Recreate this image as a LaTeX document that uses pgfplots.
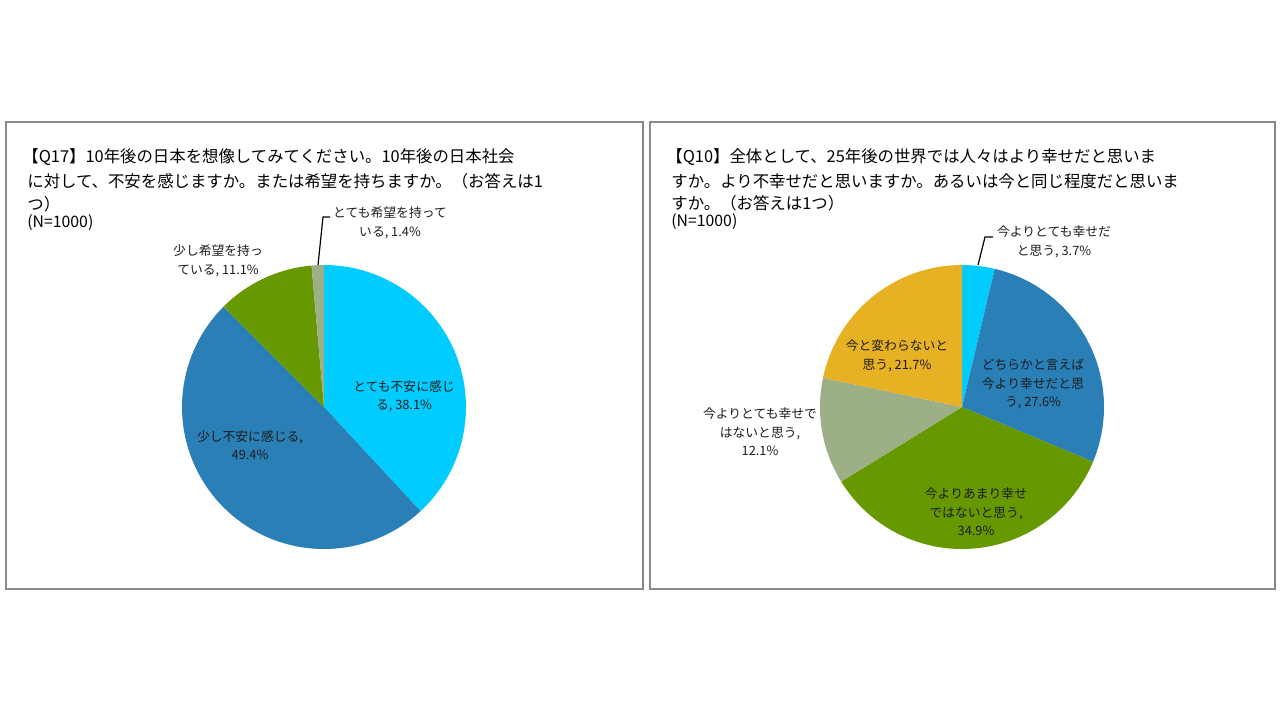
\documentclass[border=0pt]{standalone}
\usepackage{pgfplots}
\pgfplotsset{compat=1.18}
\usepackage{fontspec}
\setmainfont{Noto Sans CJK JP}
\definecolor{cA}{HTML}{00CCFF}
\definecolor{cB}{HTML}{2A7FB6}
\definecolor{cC}{HTML}{669900}
\definecolor{cD}{HTML}{9CAF86}
\definecolor{cE}{HTML}{E6B122}
\definecolor{boxc}{HTML}{8A8A8A}
\definecolor{txt}{HTML}{1C1C1C}
\newcommand\cum{0}
\newcommand\slice[4]{% cx, cy, pct, colour
  \pgfmathsetmacro\sa{90-3.6*(\cum+#3)}%
  \pgfmathsetmacro\sb{90-3.6*\cum}%
  \pgfmathsetmacro\newcum{\cum+#3}%
  \xdef\cum{\newcum}%
  \edef\doslice{\noexpand\addplot[fill=#4, draw=none, domain=\sa:\sb, samples=90] ({#1+142*cos(x)},{#2-142*sin(x)}) -- (axis cs:#1,#2) -- cycle;}%
  \doslice}
\newcommand\tfont{\fontsize{8.2pt}{10pt}\selectfont}
\newcommand\nfont{\fontsize{7.9pt}{10pt}\selectfont}
\newcommand\lfont{\fontsize{6.4pt}{9.2pt}\selectfont}
\begin{document}
\begin{tikzpicture}
\begin{axis}[scale only axis, width=640pt, height=360pt,
  xmin=0, xmax=1280, ymin=0, ymax=720, y dir=reverse,
  hide axis, clip=false]
\path (axis cs:0,0) rectangle (axis cs:1280,720);
% boxes
\draw[boxc, line width=0.8pt] (axis cs:6,122) rectangle (axis cs:643,589);
\draw[boxc, line width=0.8pt] (axis cs:650,122) rectangle (axis cs:1275,589);
% left pie
\gdef\cum{0}
\slice{324}{407}{38.1}{cA}
\slice{324}{407}{49.4}{cB}
\slice{324}{407}{11.1}{cC}
\slice{324}{407}{1.4}{cD}
% right pie
\gdef\cum{0}
\slice{962}{407}{3.7}{cA}
\slice{962}{407}{27.6}{cB}
\slice{962}{407}{34.9}{cC}
\slice{962}{407}{12.1}{cD}
\slice{962}{407}{21.7}{cE}
% titles
\node[anchor=west, inner sep=0, font=\tfont] at (axis cs:22,157) {【Q17】10年後の日本を想像してみてください。10年後の日本社会};
\node[anchor=west, inner sep=0, font=\tfont] at (axis cs:27,181) {に対して、不安を感じますか。または希望を持ちますか。（お答えは1};
\node[anchor=west, inner sep=0, font=\tfont] at (axis cs:27,204) {つ）};
\node[anchor=west, inner sep=0, font=\nfont] at (axis cs:27,223) {(N=1000)};
\node[anchor=west, inner sep=0, font=\tfont] at (axis cs:666,157) {【Q10】全体として、25年後の世界では人々はより幸せだと思いま};
\node[anchor=west, inner sep=0, font=\tfont] at (axis cs:671,181) {すか。より不幸せだと思いますか。あるいは今と同じ程度だと思いま};
\node[anchor=west, inner sep=0, font=\tfont] at (axis cs:671,203) {すか。（お答えは1つ）};
\node[anchor=west, inner sep=0, font=\nfont] at (axis cs:671,222) {(N=1000)};
% left labels
\draw[black, line width=0.6pt] (axis cs:318,265) -- (axis cs:323,217) -- (axis cs:330,217);
\node[align=center, inner sep=0, font=\lfont, text=txt] at (axis cs:390,223) {とても希望を持って\\いる, 1.4\%};
\node[align=center, inner sep=0, font=\lfont, text=txt] at (axis cs:218,261) {少し希望を持っ\\ている, 11.1\%};
\node[align=center, inner sep=0, font=\lfont, text=txt] at (axis cs:404,396) {とても不安に感じ\\る, 38.1\%};
\node[align=center, inner sep=0, font=\lfont, text=txt] at (axis cs:250,445) {少し不安に感じる,\\49.4\%};
% right labels
\draw[black, line width=0.6pt] (axis cs:978,265) -- (axis cs:985,237) -- (axis cs:993,237);
\node[align=center, inner sep=0, font=\lfont, text=txt] at (axis cs:1054,242) {今よりとても幸せだ\\と思う, 3.7\%};
\node[align=center, inner sep=0, font=\lfont, text=txt] at (axis cs:897,356) {今と変わらないと\\思う, 21.7\%};
\node[align=center, inner sep=0, font=\lfont, text=txt] at (axis cs:1033,384) {どちらかと言えば\\今より幸せだと思\\う, 27.6\%};
\node[align=center, inner sep=0, font=\lfont, text=txt] at (axis cs:760,432) {今よりとても幸せで\\はないと思う,\\12.1\%};
\node[align=center, inner sep=0, font=\lfont, text=txt] at (axis cs:976,512) {今よりあまり幸せ\\ではないと思う,\\34.9\%};
\end{axis}
\end{tikzpicture}
\end{document}
